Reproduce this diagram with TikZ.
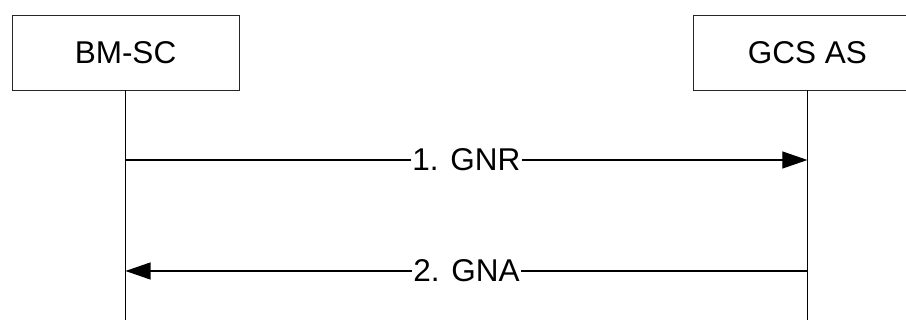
\documentclass[tikz,border=0pt]{standalone}
\usepackage{fontspec}
\setmainfont{Liberation Sans}
\usetikzlibrary{arrows.meta,positioning}
\begin{document}
\begin{tikzpicture}[x=1pt, y=-1pt,
  font=\fontsize{31.5}{36}\selectfont, >={Triangle[length=25pt,width=17pt]},
  ent/.style={draw=black!85, line width=0.9pt, minimum width=227pt, minimum height=75pt, inner sep=0pt},
  life/.style={draw, line width=0.9pt},
  msg/.style={->, line width=1.1pt},
  lbl/.style={fill=white, inner sep=1.5pt}]
\useasboundingbox (0,0) rectangle (906,320);
\clip (0,0) rectangle (906,320);
\node[ent] (bm) at (125.5,52.5) {BM-SC};
\node[ent, right=454pt of bm] (gcs) {GCS AS};
% lifelines
\coordinate (bmEnd) at (bm.south |- 0,320);
\coordinate (gcsEnd) at (gcs.south |- 0,320);
\draw[life] (bm.south) -- (bmEnd);
\draw[life] (gcs.south) -- (gcsEnd);
% messages
\coordinate (bm1) at (bm.south |- 0,160);
\coordinate (gcs1) at (gcs.south |- 0,160);
\coordinate (bm2) at (bm.south |- 0,271);
\coordinate (gcs2) at (gcs.south |- 0,271);
\draw[msg] (bm1) -- node[lbl] (m1) {1. GNR} (gcs1);
\draw[msg] (gcs2) -- node[lbl] (m2) {2. GNA} (bm2);
\end{tikzpicture}
\end{document}
